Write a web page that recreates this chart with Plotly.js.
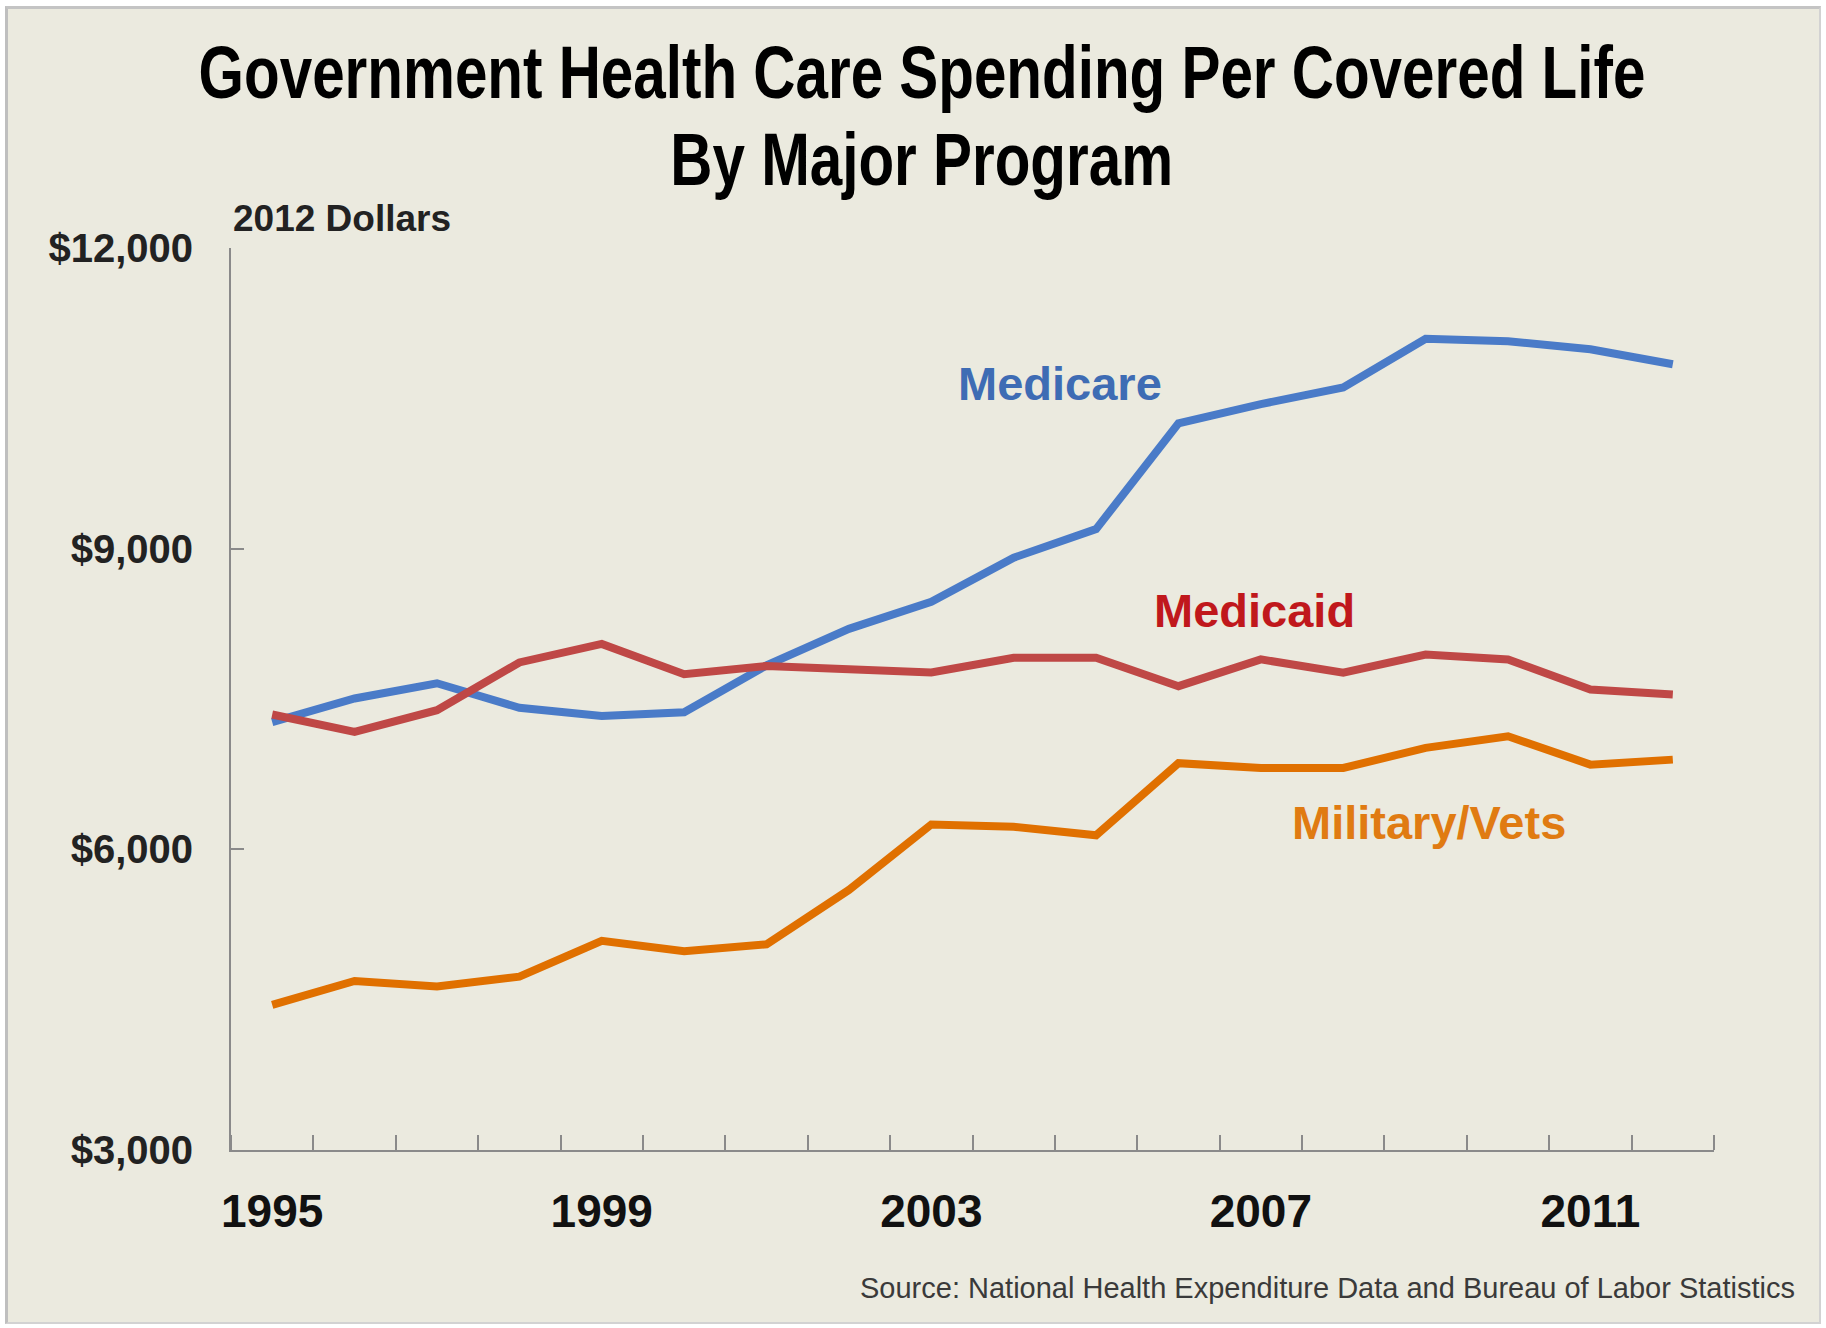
<!DOCTYPE html>
<html>
<head>
<meta charset="utf-8">
<script src="https://cdn.plot.ly/plotly-3.0.1.min.js"></script>
<style>
  html, body { margin: 0; padding: 0; background: #ffffff; }
  #frame {
    position: absolute; left: 5px; top: 6px;
    width: 1811px; height: 1313px;
    border-left: 3px solid #bfbfbf; border-top: 3px solid #c4c4c4;
    border-right: 2px solid #d2d2d2; border-bottom: 2px solid #d2d2d2;
    background: #ebeadf;
  }
  #chart { width: 1811px; height: 1313px; }
</style>
</head>
<body>
<div id="frame"><div id="chart"></div></div>
<script>
// ---- data ----
const years = [1995, 1996, 1997, 1998, 1999, 2000, 2001, 2002, 2003, 2004, 2005, 2006, 2007, 2008, 2009, 2010, 2011, 2012];
const medicare = [7270, 7505, 7657, 7412, 7330, 7368, 7835, 8200, 8470, 8910, 9195, 10250, 10443, 10608, 11095, 11070, 10990, 10840];
const medicaid = [7345, 7172, 7388, 7865, 8050, 7748, 7830, 7791, 7765, 7912, 7912, 7628, 7895, 7762, 7944, 7895, 7595, 7545];
const militaryVets = [4448, 4686, 4632, 4730, 5088, 4983, 5052, 5595, 6248, 6225, 6140, 6860, 6812, 6812, 7012, 7128, 6845, 6895];
const xTickYears = [1995, 1999, 2003, 2007, 2011];
const yTickValues = [3000, 6000, 9000, 12000];
const yTickLabels = ['$3,000', '$6,000', '$9,000', '$12,000'];
const seriesNames = ['Medicare', 'Medicaid', 'Military/Vets'];
const titleLines = ['Government Health Care Spending Per Covered Life', 'By Major Program'];
const unitText = '2012 Dollars';
const sourceText = 'Source: National Health Expenditure Data and Bureau of Labor Statistics';

// ---- styles ----
const lineColors = ['#4a7bc8', '#bf4846', '#e07000'];
const labelColors = ['#3e6cb4', '#c0181c', '#e07b12'];
const axisGray = '#8a8a8a';

const traces = [medicare, medicaid, militaryVets].map((vals, i) => ({
  type: 'scatter', mode: 'lines', x: years, y: vals, name: seriesNames[i],
  line: { color: lineColors[i], width: 8 }, hoverinfo: 'skip'
}));

const labelPos = [
  { x: 2004.56, y: 10644 },
  { x: 2006.92, y: 8380 },
  { x: 2009.04, y: 6266 }
];

const annotations = seriesNames.map((n, i) => ({
  text: n, x: labelPos[i].x, y: labelPos[i].y, xref: 'x', yref: 'y',
  showarrow: false, xanchor: 'center', yanchor: 'middle',
  font: { family: 'Liberation Sans, Arial, sans-serif', size: 47, color: labelColors[i], weight: 700 }
}));

const titleY = [1.1945, 1.0981];
titleLines.forEach((t, i) => annotations.push({
  text: t, x: 0.4659, y: titleY[i], xref: 'paper', yref: 'paper',
  showarrow: false, xanchor: 'center', yanchor: 'middle', name: 'title' + i,
  font: { family: 'Liberation Sans, Arial, sans-serif', size: 74, color: '#000000', weight: 700 }
}));
annotations.push({
  text: unitText, x: 0, y: 1.0332, xref: 'paper', yref: 'paper',
  showarrow: false, xanchor: 'left', yanchor: 'middle',
  font: { family: 'Liberation Sans, Arial, sans-serif', size: 37, color: '#222222', weight: 700 }
});
annotations.push({
  text: sourceText, x: 1.0559, y: -0.1535, xref: 'paper', yref: 'paper',
  showarrow: false, xanchor: 'right', yanchor: 'middle',
  font: { family: 'Liberation Sans, Arial, sans-serif', size: 29, color: '#3a3a3a' }
});

const layout = {
  width: 1811, height: 1313,
  paper_bgcolor: '#ebeadf', plot_bgcolor: '#ebeadf',
  margin: { l: 223, r: 105, t: 239, b: 172, pad: 0 },
  showlegend: false,
  xaxis: {
    range: [1994.5, 2012.5], tickmode: 'array', tickvals: xTickYears,
    ticktext: xTickYears.map(String), ticks: '', showgrid: false, zeroline: false,
    showline: true, linecolor: axisGray, linewidth: 2,
    ticklabelstandoff: 20,
    tickfont: { family: 'Liberation Sans, Arial, sans-serif', size: 46, color: '#111111', weight: 700 },
    minor: { tickmode: 'linear', tick0: 1994.5, dtick: 1, ticks: 'inside', ticklen: 15, tickcolor: axisGray, tickwidth: 2, showgrid: false }
  },
  yaxis: {
    range: [3000, 12000], tickmode: 'array', tickvals: yTickValues, ticktext: yTickLabels,
    ticks: 'inside', ticklen: 13, tickcolor: axisGray, tickwidth: 2,
    showgrid: false, zeroline: false, showline: true, linecolor: axisGray, linewidth: 2,
    ticklabelstandoff: 28,
    tickfont: { family: 'Liberation Sans, Arial, sans-serif', size: 40, color: '#222222', weight: 700 }
  },
  annotations: annotations
};

const gd = document.getElementById('chart');
Plotly.newPlot(gd, traces, layout, { displayModeBar: false, staticPlot: true }).then(() => {
  // condense the title glyphs horizontally to mimic a condensed bold face
  const targetWidth = 1447;
  let scale = null;
  gd.querySelectorAll('.annotation text').forEach(t => {
    const s = t.textContent;
    if (titleLines.indexOf(s) === -1) return;
    const bb = t.getBBox();
    if (scale === null) scale = targetWidth / bb.width;
    const cx = bb.x + bb.width / 2;
    t.setAttribute('transform', 'translate(' + cx + ',0) scale(' + scale + ',1) translate(' + (-cx) + ',0)');
  });
});
</script>
</body>
</html>
